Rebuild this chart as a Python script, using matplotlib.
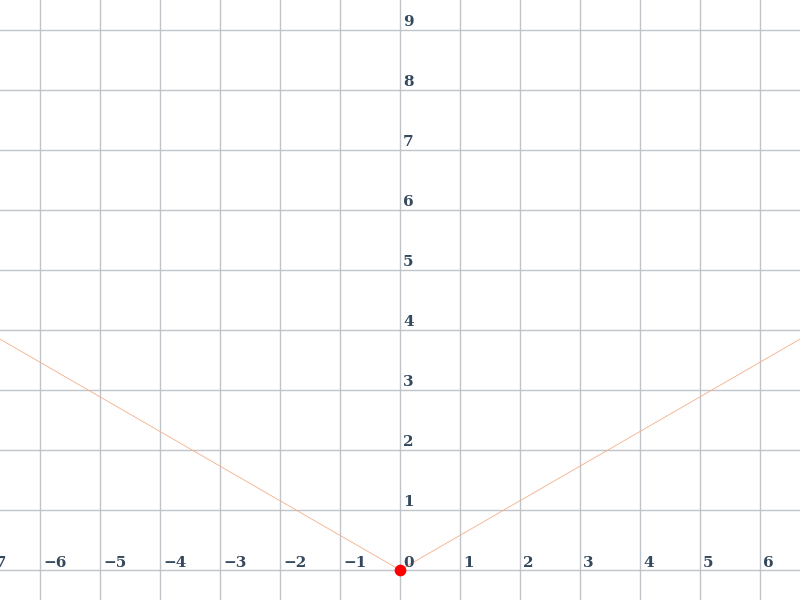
import numpy as np
import matplotlib
matplotlib.use("Agg")
import matplotlib.pyplot as plt

# data: V-shaped line y = |x| * 0.577
line_x = [-7.0, 0.0, 7.0]
line_y = [4.04, 0.0, 4.04]
point_x = [0.0]
point_y = [0.0]
x_ticks = [-7, -6, -5, -4, -3, -2, -1, 0, 1, 2, 3, 4, 5, 6]
y_ticks = [1, 2, 3, 4, 5, 6, 7, 8, 9]

fig = plt.figure(figsize=(8, 6), dpi=100)
ax = fig.add_axes([0, 0, 1, 1])
ax.set_xlim(-6.6667, 6.6667)
ax.set_ylim(-0.5, 9.5)
for s in ax.spines.values():
    s.set_visible(False)
ax.set_xticks([])
ax.set_yticks([])

grid_col = "#c0c4c9"
for gx in range(-7, 8):
    ax.axvline(gx, color=grid_col, lw=1.0, zorder=1)
for gy in range(-1, 11):
    ax.axhline(gy, color=grid_col, lw=1.0, zorder=1)

ax.plot(line_x, line_y, color="#f2b088", lw=0.6, zorder=2)
ax.scatter(point_x, point_y, s=55, color="#ff0000", zorder=3, clip_on=False)

lab_col = "#34495e"
fam = "DejaVu Serif"
for t in x_ticks:
    txt = str(t).replace("-", "\u2212")
    ax.annotate(txt, (t, 0), xytext=(3, 7), textcoords="offset pixels",
                ha="left", va="center", fontsize=11, color=lab_col,
                family=fam, fontweight="bold", annotation_clip=False)
for t in y_ticks:
    ax.annotate(str(t), (0, t), xytext=(3, 1), textcoords="offset pixels",
                ha="left", va="bottom", fontsize=11, color=lab_col,
                family=fam, fontweight="bold", annotation_clip=False)

fig.savefig("out.png", dpi=100)
